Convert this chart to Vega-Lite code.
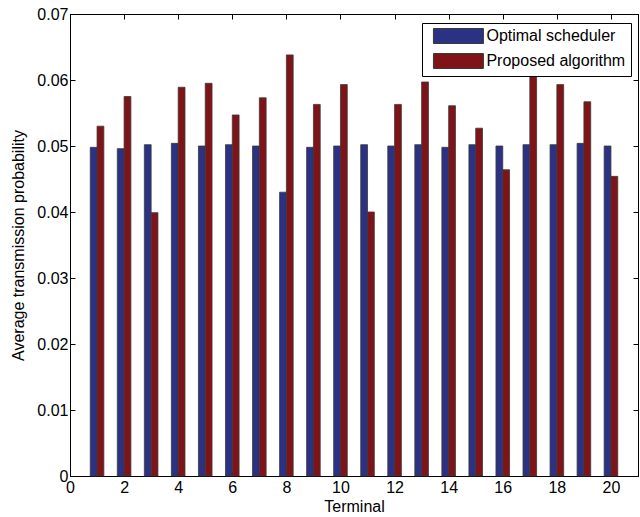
{
  "$schema": "https://vega.github.io/schema/vega-lite/v6.json",
  "width": 568,
  "height": 462,
  "autosize": {"type": "none"},
  "padding": {"left": 70, "top": 14, "right": 2, "bottom": 41},
  "background": "white",
  "config": {
    "view": {"stroke": "#000", "strokeWidth": 1},
    "font": "Liberation Sans",
    "axis": {
      "grid": false,
      "offset": 0,
      "labelFlush": false,
      "domainColor": "#000",
      "tickColor": "#000",
      "labelColor": "#000",
      "titleColor": "#000",
      "labelFont": "Liberation Sans",
      "titleFont": "Liberation Sans",
      "labelFontSize": 16,
      "titleFontSize": 16,
      "titleFontWeight": "normal",
      "tickSize": -5
    }
  },
  "data": {
    "values": [
      {"terminal": 1, "optimal": 0.0498, "proposed": 0.0530},
      {"terminal": 2, "optimal": 0.0496, "proposed": 0.0575},
      {"terminal": 3, "optimal": 0.0502, "proposed": 0.0399},
      {"terminal": 4, "optimal": 0.0504, "proposed": 0.0589},
      {"terminal": 5, "optimal": 0.0500, "proposed": 0.0595},
      {"terminal": 6, "optimal": 0.0502, "proposed": 0.0547},
      {"terminal": 7, "optimal": 0.0500, "proposed": 0.0573},
      {"terminal": 8, "optimal": 0.0430, "proposed": 0.0638},
      {"terminal": 9, "optimal": 0.0498, "proposed": 0.0563},
      {"terminal": 10, "optimal": 0.0500, "proposed": 0.0593},
      {"terminal": 11, "optimal": 0.0502, "proposed": 0.0400},
      {"terminal": 12, "optimal": 0.0500, "proposed": 0.0563},
      {"terminal": 13, "optimal": 0.0502, "proposed": 0.0597},
      {"terminal": 14, "optimal": 0.0498, "proposed": 0.0561},
      {"terminal": 15, "optimal": 0.0502, "proposed": 0.0527},
      {"terminal": 16, "optimal": 0.0500, "proposed": 0.0464},
      {"terminal": 17, "optimal": 0.0502, "proposed": 0.0625},
      {"terminal": 18, "optimal": 0.0502, "proposed": 0.0593},
      {"terminal": 19, "optimal": 0.0504, "proposed": 0.0567},
      {"terminal": 20, "optimal": 0.0500, "proposed": 0.0454}
    ]
  },
  "layer": [
    {
      "layer": [
        {
          "mark": {"type": "bar", "width": 6.8, "xOffset": -3.4, "stroke": "#3a3a3a", "strokeWidth": 0.8},
          "encoding": {
            "x": {
              "field": "terminal", "type": "quantitative",
              "scale": {"domain": [0, 21], "nice": false, "zero": false, "padding": 0},
              "axis": {"values": [0, 2, 4, 6, 8, 10, 12, 14, 16, 18, 20], "title": "Terminal", "labelPadding": 8, "titlePadding": 3}
            },
            "y": {
              "field": "optimal", "type": "quantitative",
              "scale": {"domain": [0, 0.07], "nice": false, "padding": 0},
              "axis": {
                "values": [0, 0.01, 0.02, 0.03, 0.04, 0.05, 0.06, 0.07],
                "labelExpr": "datum.value == 0 ? '0' : format(datum.value, '.2f')",
                "title": "Average transmission probability",
                "labelPadding": 7,
                "titlePadding": 10
              }
            },
            "color": {
              "datum": "Optimal scheduler",
              "type": "nominal",
              "scale": {"domain": ["Optimal scheduler", "Proposed algorithm"], "range": ["#2b3183", "#7f1418"]},
              "legend": {
                "title": null,
                "orient": "none",
                "legendX": 352,
                "legendY": 9,
                "fillColor": "white",
                "strokeColor": "#000",
                "padding": 5,
                "labelFont": "Liberation Sans",
                "labelFontSize": 16,
                "labelColor": "#000",
                "symbolType": "M-4,-1.2H4V1.2H-4Z",
                "symbolSize": 156.25,
                "symbolOffset": 23.45,
                "labelOffset": 20,
                "symbolStrokeColor": "#333",
                "symbolStrokeWidth": 1,
                "rowPadding": 5
              }
            }
          }
        },
        {
          "mark": {"type": "bar", "width": 6.8, "xOffset": 3.4, "stroke": "#3a3a3a", "strokeWidth": 0.8},
          "encoding": {
            "x": {"field": "terminal", "type": "quantitative"},
            "y": {"field": "proposed", "type": "quantitative"},
            "color": {"datum": "Proposed algorithm", "type": "nominal"}
          }
        }
      ]
    },
    {
      "mark": {"type": "point", "opacity": 0},
      "encoding": {
        "x": {
          "field": "terminal", "type": "quantitative",
          "scale": {"domain": [0, 21], "nice": false, "zero": false},
          "axis": {"orient": "top", "values": [0, 2, 4, 6, 8, 10, 12, 14, 16, 18, 20], "labels": false, "title": null}
        },
        "y": {
          "field": "optimal", "type": "quantitative",
          "scale": {"domain": [0, 0.07], "nice": false},
          "axis": {"orient": "right", "values": [0, 0.01, 0.02, 0.03, 0.04, 0.05, 0.06, 0.07], "labels": false, "title": null}
        }
      }
    }
  ],
  "resolve": {"scale": {"x": "independent", "y": "independent"}, "axis": {"x": "independent", "y": "independent"}}
}
